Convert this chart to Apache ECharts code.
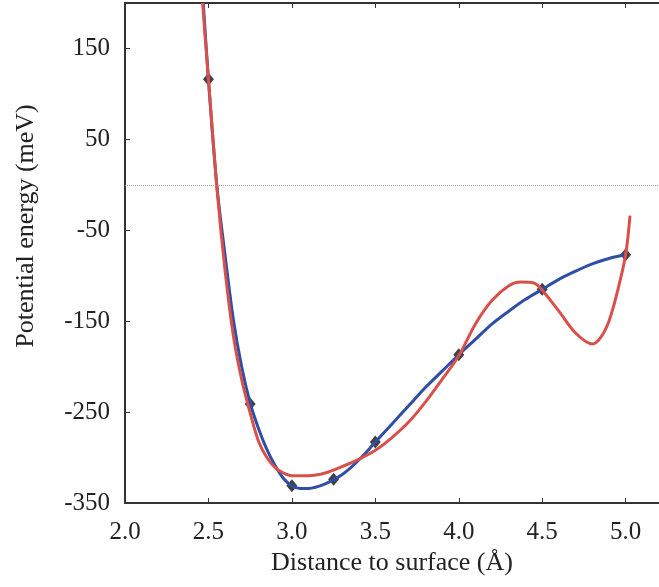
<!DOCTYPE html>
<html>
<head>
<meta charset="utf-8">
<title>Potential energy</title>
<script src="https://cdn.jsdelivr.net/npm/echarts@6/dist/echarts.min.js"></script>
<style>
	html, body { margin: 0; padding: 0; background: #fff; }
	#chart { width: 659px; height: 587px; }
</style>
</head>
<body>
<div id="chart"></div>
<script>
// computed points (diamonds)
var pointX = [2.5, 2.75, 3.0, 3.25, 3.5, 4.0, 4.5, 5.0];
var pointY = [116, -241, -331, -324, -283, -187, -115, -77];

// blue fit
var blueX = [2.469, 2.5, 2.55, 2.6, 2.65, 2.7, 2.75, 2.8, 2.85, 2.9, 2.95, 3.0, 3.05, 3.1, 3.2, 3.3, 3.4, 3.5, 3.6, 3.7, 3.8, 3.9, 4.0, 4.1, 4.2, 4.3, 4.4, 4.5, 4.6, 4.7, 4.8, 4.9, 5.0];
var blueY = [200, 116, 0, -78, -149, -201, -240, -268, -291, -309, -323, -331, -334, -334, -329, -319, -303, -283, -263, -243, -223, -205, -187, -170, -153, -139, -126, -115, -104, -95, -87, -81, -77];

// red fit
var redX = [2.465, 2.5, 2.55, 2.6, 2.65, 2.7, 2.75, 2.8, 2.85, 2.9, 2.95, 3.0, 3.1, 3.2, 3.3, 3.4, 3.5, 3.6, 3.7, 3.8, 3.9, 4.0, 4.1, 4.2, 4.3, 4.37, 4.45, 4.5, 4.6, 4.7, 4.8, 4.85, 4.9, 4.95, 5.0, 5.026];
var redY = [200, 116, -2, -95, -167, -215, -251, -282, -300, -311, -317, -320, -320, -317, -310, -302, -292, -278, -261, -239, -214, -188, -153, -127, -111, -107, -108, -116, -139, -163, -175, -168, -150, -118, -77, -34];

var xTicks = { min: 2.0, max: 5.2, interval: 0.5 };
var yTicks = { min: -350, max: 200, interval: 100 };

function zip(xs, ys) {
	var out = [];
	for (var i = 0; i < xs.length; i++) out.push([xs[i], ys[i]]);
	return out;
}

var serif = 'Liberation Serif';
var axisColor = '#333';

var chart = echarts.init(document.getElementById('chart'));
chart.setOption({
	animation: false,
	grid: { left: 125, top: 3, right: 0, bottom: 84 },
	xAxis: [{
		type: 'value',
		min: xTicks.min,
		max: xTicks.max,
		interval: xTicks.interval,
		name: 'Distance to surface (Å)',
		nameLocation: 'middle',
		nameGap: 46,
		nameTextStyle: { fontFamily: serif, fontSize: 26, color: '#222' },
		axisLine: { show: true, onZero: false, lineStyle: { color: axisColor, width: 2 } },
		axisTick: { inside: true, length: 5, lineStyle: { color: axisColor } },
		axisLabel: {
			margin: 17, fontFamily: serif, fontSize: 25, color: '#222',
			showMaxLabel: false,
			formatter: function(v) { return v.toFixed(1); }
		},
		splitLine: { show: false }
	}, {
		type: 'value',
		position: 'top',
		min: xTicks.min,
		max: xTicks.max,
		interval: xTicks.interval,
		axisLine: { show: true, onZero: false, lineStyle: { color: axisColor, width: 2 } },
		axisTick: { inside: true, length: 5, lineStyle: { color: axisColor } },
		axisLabel: { show: false },
		splitLine: { show: false }
	}],
	yAxis: {
		type: 'value',
		min: yTicks.min,
		max: yTicks.max,
		interval: yTicks.interval,
		name: 'Potential energy (meV)',
		nameLocation: 'middle',
		nameGap: 86,
		nameTextStyle: { fontFamily: serif, fontSize: 26, color: '#222', padding: [0, 0, 0, 54] },
		axisLine: { show: true, onZero: false, lineStyle: { color: axisColor, width: 2 } },
		axisTick: { inside: true, length: 5, lineStyle: { color: axisColor } },
		axisLabel: { margin: 15, fontFamily: serif, fontSize: 25, color: '#222', showMaxLabel: false },
		splitLine: { show: false }
	},
	series: [{
		type: 'line',
		data: zip(blueX, blueY),
		smooth: 0.33,
		showSymbol: false,
		lineStyle: { color: '#2f4fa6', width: 3 },
		markLine: {
			silent: true,
			symbol: 'none',
			label: { show: false },
			lineStyle: { color: '#999', type: 'dotted', width: 1 },
			data: [{ yAxis: 0 }]
		}
	}, {
		type: 'line',
		data: zip(redX, redY),
		smooth: 0.33,
		showSymbol: false,
		lineStyle: { color: '#d9504a', width: 3 }
	}, {
		type: 'scatter',
		data: zip(pointX, pointY),
		symbol: 'diamond',
		symbolSize: [11, 13],
		itemStyle: { color: '#111' }
	}]
});
</script>
</body>
</html>
